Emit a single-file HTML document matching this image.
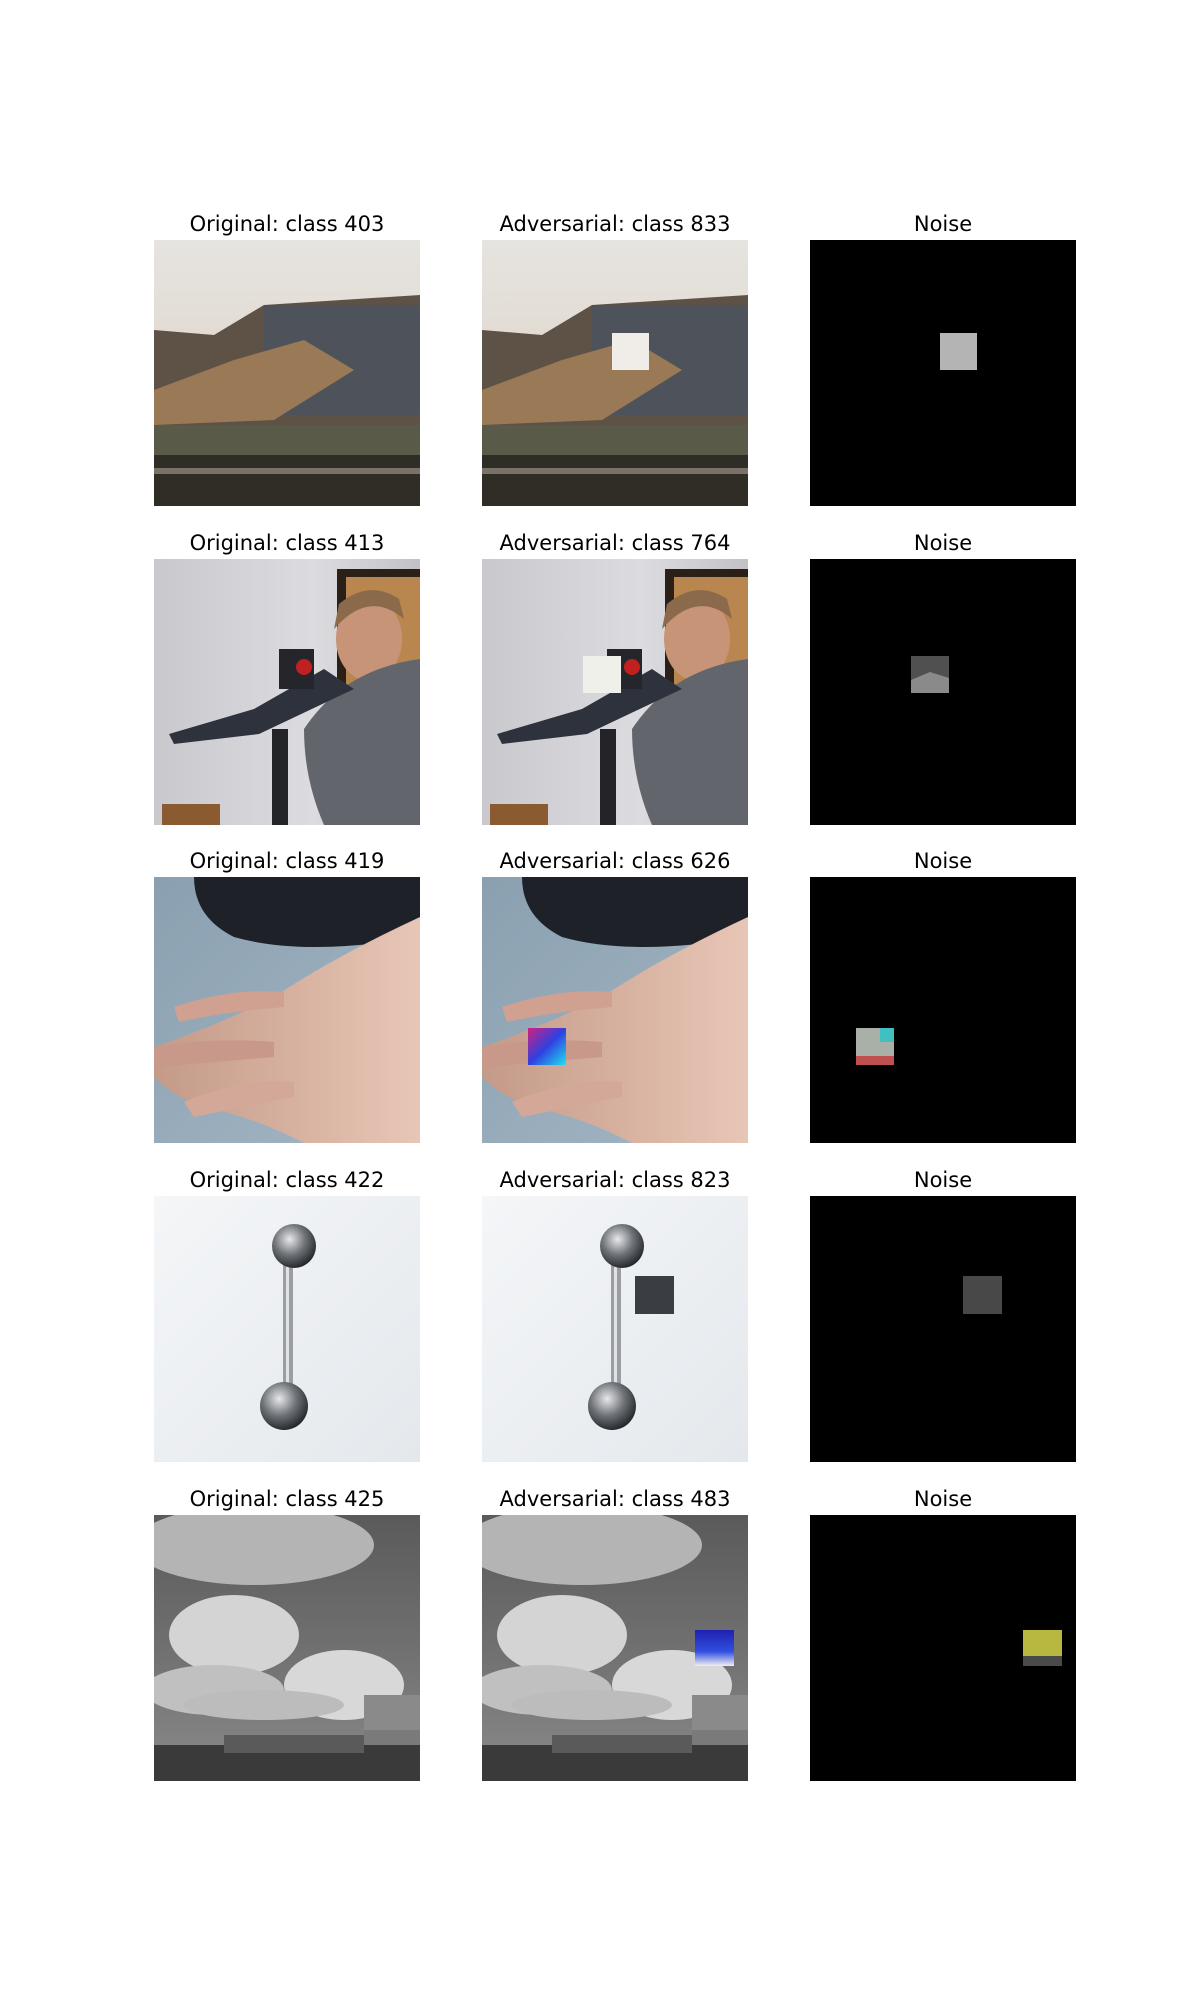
<!DOCTYPE html>
<html><head><meta charset="utf-8"><style>
html,body{margin:0;padding:0;background:#fff}
svg{display:block}
text{font-family:"DejaVu Sans","Liberation Sans",sans-serif;font-size:21px;fill:#000}
</style></head><body>
<svg width="1200" height="2000" viewBox="0 0 1200 2000">
<defs>
 <linearGradient id="sky1" x1="0" y1="0" x2="0" y2="1"><stop offset="0" stop-color="#e6e4e0"/><stop offset="0.35" stop-color="#e2dcd4"/><stop offset="1" stop-color="#c8c0b4"/></linearGradient>
 <linearGradient id="wall2" x1="0" y1="0" x2="1" y2="0"><stop offset="0" stop-color="#c9c9cd"/><stop offset="0.6" stop-color="#dcdce0"/><stop offset="1" stop-color="#c2c2c6"/></linearGradient>
 <linearGradient id="bg3" x1="0" y1="0" x2="1" y2="1"><stop offset="0" stop-color="#8aa0b0"/><stop offset="1" stop-color="#a4b6c4"/></linearGradient>
 <linearGradient id="hand" x1="0" y1="0" x2="1" y2="0"><stop offset="0" stop-color="#c49a88"/><stop offset="1" stop-color="#e8c6b6"/></linearGradient>
 <linearGradient id="bg4" x1="0" y1="0" x2="1" y2="1"><stop offset="0" stop-color="#f4f6f8"/><stop offset="1" stop-color="#e4e8ec"/></linearGradient>
 <radialGradient id="ball" cx="0.4" cy="0.35" r="0.7"><stop offset="0" stop-color="#e8e8ec"/><stop offset="0.5" stop-color="#707478"/><stop offset="1" stop-color="#1c1e22"/></radialGradient>
 <linearGradient id="sky5" x1="0" y1="0" x2="0" y2="1"><stop offset="0" stop-color="#5a5a5a"/><stop offset="0.5" stop-color="#707070"/><stop offset="1" stop-color="#8a8a8a"/></linearGradient>
 <linearGradient id="adv3" x1="0" y1="0" x2="1" y2="1"><stop offset="0" stop-color="#d02080"/><stop offset="0.5" stop-color="#3040e0"/><stop offset="1" stop-color="#20e0f0"/></linearGradient>
 <linearGradient id="adv5" x1="0" y1="0" x2="0" y2="1"><stop offset="0" stop-color="#2020b0"/><stop offset="0.6" stop-color="#3050e0"/><stop offset="1" stop-color="#f0f0f0"/></linearGradient>

 <symbol id="scene1" viewBox="0 0 266 266">
  <rect width="266" height="266" fill="url(#sky1)"/>
  <polygon points="0,90 60,95 110,65 266,55 266,266 0,266" fill="#5e5246"/>
  <rect x="110" y="65" width="156" height="110" fill="#4e525a"/>
  <polygon points="0,150 80,120 150,100 200,130 120,180 0,185" fill="#9a7a56"/>
  <rect x="0" y="185" width="266" height="30" fill="#5a5a48"/>
  <rect x="0" y="215" width="266" height="51" fill="#302c26"/>
  <rect x="0" y="228" width="266" height="6" fill="#7a7268"/>
 </symbol>
 <symbol id="scene2" viewBox="0 0 266 266">
  <rect width="266" height="266" fill="url(#wall2)"/>
  <rect x="183" y="10" width="83" height="120" fill="#2a2018"/>
  <rect x="192" y="18" width="74" height="110" fill="#b8864e"/>
  <ellipse cx="215" cy="80" rx="33" ry="42" fill="#c89478"/>
  <path d="M180,70 Q215,30 250,60 L245,40 Q215,20 185,45Z" fill="#8a6a4a"/>
  <path d="M150,170 Q190,110 266,100 L266,266 L170,266 Q150,220 150,170Z" fill="#62666c"/>
  <polygon points="15,175 100,150 170,110 200,130 105,175 20,185" fill="#2e323c"/>
  <rect x="125" y="90" width="35" height="40" fill="#24262c"/>
  <circle cx="150" cy="108" r="8" fill="#c02020"/>
  <rect x="118" y="170" width="16" height="96" fill="#222428"/>
  <rect x="8" y="245" width="58" height="21" fill="#8a5a30"/>
 </symbol>
 <symbol id="scene3" viewBox="0 0 266 266">
  <rect width="266" height="266" fill="url(#bg3)"/>
  <path d="M40,0 L266,0 L266,60 Q150,80 80,60 Q40,40 40,0Z" fill="#1e2228"/>
  <path d="M0,170 Q60,150 120,120 Q180,80 266,40 L266,266 L150,266 Q100,240 50,230 Q20,220 0,200Z" fill="url(#hand)"/>
  <path d="M20,130 Q80,110 130,115 L130,130 Q70,135 25,145Z" fill="#d0a090"/>
  <path d="M0,170 Q60,160 120,165 L120,180 Q60,185 0,190Z" fill="#c8988a"/>
  <path d="M30,225 Q90,200 140,205 L140,220 Q90,230 40,240Z" fill="#d4a898"/>
 </symbol>
 <symbol id="scene4" viewBox="0 0 266 266">
  <rect width="266" height="266" fill="url(#bg4)"/>
  <rect x="129" y="60" width="10" height="150" fill="#9a9ea4"/>
  <rect x="132" y="60" width="3" height="150" fill="#e0e2e6"/>
  <circle cx="140" cy="50" r="22" fill="url(#ball)"/>
  <circle cx="130" cy="210" r="24" fill="url(#ball)"/>
 </symbol>
 <symbol id="scene5" viewBox="0 0 266 266">
  <rect width="266" height="266" fill="url(#sky5)"/>
  <ellipse cx="100" cy="30" rx="120" ry="40" fill="#b4b4b4"/>
  <ellipse cx="80" cy="120" rx="65" ry="40" fill="#d4d4d4"/>
  <ellipse cx="60" cy="175" rx="70" ry="25" fill="#c0c0c0"/>
  <ellipse cx="190" cy="170" rx="60" ry="35" fill="#d8d8d8"/>
  <ellipse cx="110" cy="190" rx="80" ry="15" fill="#bcbcbc"/>
  <rect x="210" y="180" width="56" height="100" fill="#7a7a7a"/>
  <rect x="210" y="180" width="56" height="35" fill="#8a8a8a"/>
  <rect x="0" y="230" width="266" height="36" fill="#3a3a3a"/>
  <rect x="70" y="220" width="140" height="18" fill="#5a5a5a"/>
 </symbol>
</defs>

<g>
 <text x="287" y="231" text-anchor="middle">Original: class 403</text>
 <text x="615" y="231" text-anchor="middle">Adversarial: class 833</text>
 <text x="943" y="231" text-anchor="middle">Noise</text>
 <use href="#scene1" x="154" y="240" width="266" height="266"/>
 <use href="#scene1" x="482" y="240" width="266" height="266"/>
 <rect x="612" y="333" width="37" height="37" fill="#f0ece8"/>
 <rect x="810" y="240" width="266" height="266" fill="#000"/>
 <rect x="940" y="333" width="37" height="37" fill="#b4b4b4"/>
</g>
<g>
 <text x="287" y="550" text-anchor="middle">Original: class 413</text>
 <text x="615" y="550" text-anchor="middle">Adversarial: class 764</text>
 <text x="943" y="550" text-anchor="middle">Noise</text>
 <use href="#scene2" x="154" y="559" width="266" height="266"/>
 <use href="#scene2" x="482" y="559" width="266" height="266"/>
 <rect x="583" y="656" width="38" height="37" fill="#f0f0ea"/>
 <rect x="810" y="559" width="266" height="266" fill="#000"/>
 <rect x="911" y="656" width="38" height="37" fill="#505050"/>
 <polygon points="911,680 930,672 949,678 949,693 911,693" fill="#8a8a8a"/>
</g>
<g>
 <text x="287" y="868" text-anchor="middle">Original: class 419</text>
 <text x="615" y="868" text-anchor="middle">Adversarial: class 626</text>
 <text x="943" y="868" text-anchor="middle">Noise</text>
 <use href="#scene3" x="154" y="877" width="266" height="266"/>
 <use href="#scene3" x="482" y="877" width="266" height="266"/>
 <rect x="528" y="1028" width="38" height="37" fill="url(#adv3)"/>
 <rect x="810" y="877" width="266" height="266" fill="#000"/>
 <rect x="856" y="1028" width="38" height="37" fill="#a8b0a8"/>
 <rect x="856" y="1056" width="38" height="9" fill="#c05050"/>
 <rect x="880" y="1028" width="14" height="14" fill="#40c0c0"/>
</g>
<g>
 <text x="287" y="1187" text-anchor="middle">Original: class 422</text>
 <text x="615" y="1187" text-anchor="middle">Adversarial: class 823</text>
 <text x="943" y="1187" text-anchor="middle">Noise</text>
 <use href="#scene4" x="154" y="1196" width="266" height="266"/>
 <use href="#scene4" x="482" y="1196" width="266" height="266"/>
 <rect x="635" y="1276" width="39" height="38" fill="#3a3e42"/>
 <rect x="810" y="1196" width="266" height="266" fill="#000"/>
 <rect x="963" y="1276" width="39" height="38" fill="#484848"/>
</g>
<g>
 <text x="287" y="1506" text-anchor="middle">Original: class 425</text>
 <text x="615" y="1506" text-anchor="middle">Adversarial: class 483</text>
 <text x="943" y="1506" text-anchor="middle">Noise</text>
 <use href="#scene5" x="154" y="1515" width="266" height="266"/>
 <use href="#scene5" x="482" y="1515" width="266" height="266"/>
 <rect x="695" y="1630" width="39" height="36" fill="url(#adv5)"/>
 <rect x="810" y="1515" width="266" height="266" fill="#000"/>
 <rect x="1023" y="1630" width="39" height="36" fill="#b8b840"/>
 <rect x="1023" y="1656" width="39" height="10" fill="#4a4a4a"/>
</g>
</svg>
</body></html>
